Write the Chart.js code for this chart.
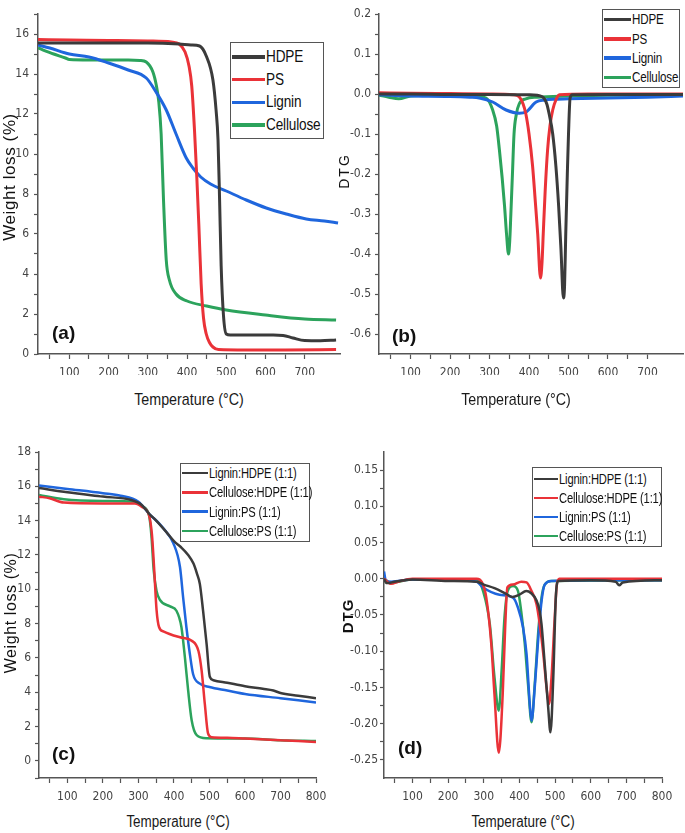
<!DOCTYPE html>
<html>
<head>
<meta charset="utf-8">
<script src="https://cdn.jsdelivr.net/npm/chart.js@4.4.0/dist/chart.umd.min.js"></script>
<style>
  html, body { margin:0; padding:0; background:#fff; }
  body { width:685px; height:833px; position:relative; overflow:hidden; font-family:"Liberation Sans", Arial, sans-serif; }
  canvas { position:absolute; }
  .lbl { position:absolute; white-space:nowrap; color:#111; }
  .ytitle { transform-origin:center center; transform:translate(-50%,-50%) rotate(-90deg); }
  .xtitle { transform:translate(-50%,-50%) scaleX(0.84); color:#1a1a1a; }
  .panel { font-weight:bold; font-size:19px; }
  .legend { position:absolute; border:1.3px solid #555; background:#fff; box-sizing:border-box; color:#111; }
  .legend .row { position:absolute; left:0; display:flex; align-items:center; white-space:nowrap; }
  .legend .sw { display:inline-block; flex:none; }
  .legend .tx { display:inline-block; transform:scaleX(0.8); transform-origin:left center; letter-spacing:-0.2px; }
</style>
</head>
<body>
<canvas id="ca"></canvas>
<canvas id="cb"></canvas>
<canvas id="cc"></canvas>
<canvas id="cd"></canvas>

<script>
// ---------------- DATA ----------------
// Panel (a) TGA: temperature (°C) / weight loss (%)
const aLabels = ["HDPE", "PS", "Lignin", "Cellulose"];
const aHdpeT = [20,100,200,300,380,410,432,449,466,474,479,483,487,493,500,510,550,620,645,670,700,740,780];
const aHdpeW = [15.55,15.55,15.55,15.55,15.5,15.45,15.4,14.9,13.7,12.2,10.7,7.7,4.4,1.9,1.0,0.95,0.95,0.95,0.93,0.8,0.67,0.66,0.7];
const aPsT = [20,100,200,300,360,380,395,405,412,419,425,430,436,442,449,458,466,480,550,650,780];
const aPsW = [15.72,15.7,15.68,15.65,15.6,15.5,15.1,14.4,13.4,11.2,8.8,6.5,3.5,1.8,1.0,0.55,0.35,0.22,0.2,0.2,0.22];
const aLigT = [20,50,100,150,200,250,296,321,347,372,398,415,435,460,500,551,602,653,704,750,785];
const aLigW = [15.45,15.3,15.0,14.85,14.55,14.2,13.8,13.1,12.2,11.0,9.8,9.3,8.85,8.5,8.15,7.7,7.3,7.0,6.75,6.65,6.55];
const aCelT = [20,60,90,100,150,200,250,280,296,313,322,328,334,340,347,355,372,400,450,500,600,700,780];
const aCelW = [15.3,15.0,14.8,14.72,14.7,14.7,14.7,14.68,14.6,14.1,13.4,12.6,11.0,7.7,4.7,3.7,3.0,2.65,2.4,2.2,1.95,1.75,1.7];

// Panel (b) DTG
const bHdpeT = [20,100,200,300,400,434,445,451,460,468,475,481,487,490,493,497,500,504,510,600,700,790];
const bHdpeD = [0,0,-0.001,-0.001,-0.002,-0.007,-0.025,-0.05,-0.1,-0.18,-0.28,-0.39,-0.51,-0.48,-0.35,-0.2,-0.1,-0.01,-0.002,-0.001,-0.001,-0.001];
const bPsT = [20,100,200,300,360,375,385,392,400,409,416,422,429,433,436,441,447,453,460,468,477,550,790];
const bPsD = [0.003,0.002,0.001,0,-0.002,-0.007,-0.025,-0.05,-0.1,-0.18,-0.27,-0.35,-0.46,-0.42,-0.35,-0.24,-0.14,-0.08,-0.04,-0.015,-0.002,0,0];
const bLigT = [20,60,100,200,250,274,308,342,375,392,418,440,460,500,600,700,790];
const bLigD = [-0.002,-0.004,-0.005,-0.006,-0.008,-0.01,-0.02,-0.04,-0.048,-0.045,-0.02,-0.015,-0.013,-0.012,-0.01,-0.008,-0.005];
const bCelT = [20,45,70,100,150,200,250,291,308,318,325,332,338,343,348,351,354,358,362,368,375,392,420,500,600,790];
const bCelD = [-0.003,-0.008,-0.012,-0.005,-0.003,-0.003,-0.003,-0.01,-0.04,-0.08,-0.14,-0.21,-0.28,-0.35,-0.4,-0.37,-0.3,-0.2,-0.1,-0.05,-0.025,-0.012,-0.008,-0.005,-0.003,-0.003];

// Panel (c) TGA of blends
const cLabels = ["Lignin:HDPE (1:1)", "Cellulose:HDPE (1:1)", "Lignin:PS (1:1)", "Cellulose:PS (1:1)"];
const cLhT = [20,100,200,280,310,330,350,380,400,420,440,455,465,473,482,492,501,511,550,600,650,680,700,750,800];
const cLhW = [15.9,15.65,15.4,15.2,14.9,14.4,14.0,13.3,12.8,12.45,12.0,11.5,10.9,10.3,8.75,6.8,4.9,4.7,4.55,4.35,4.2,4.1,3.95,3.8,3.65];
const cChT = [20,50,90,200,290,310,330,338,344,351,358,370,417,450,469,478,487,496,506,550,600,700,800];
const cChW = [15.4,15.3,15.05,15.0,15.0,14.8,14.3,13.2,11.3,8.8,7.8,7.55,7.2,7.0,6.4,5.25,3.3,1.6,1.38,1.35,1.3,1.2,1.1];
const cLpT = [20,100,200,250,300,330,360,380,398,417,426,435,445,454,473,500,550,600,700,800];
const cLpW = [16.05,15.85,15.6,15.45,15.1,14.4,13.8,13.3,12.7,11.3,9.5,7.8,6.2,5.05,4.5,4.3,4.1,3.9,3.65,3.4];
const cCpT = [20,90,200,290,310,330,337,343,351,360,389,407,421,431,440,450,464,492,600,700,800];
const cCpW = [15.5,15.25,15.15,15.1,14.85,14.3,13.0,11.1,9.9,9.4,9.0,8.75,7.8,6.0,4.1,2.35,1.5,1.32,1.3,1.2,1.15];

// Panel (d) DTG of blends
const dLhT = [20,25,30,50,100,200,280,300,330,360,380,400,419,433,448,457,462,471,481,487,495,502,509,600,670,680,690,800];
const dLhD = [0.0,-0.005,-0.006,-0.004,-0.001,-0.003,-0.004,-0.008,-0.013,-0.02,-0.025,-0.022,-0.017,-0.02,-0.03,-0.045,-0.063,-0.118,-0.18,-0.212,-0.136,-0.026,-0.003,-0.002,-0.004,-0.009,-0.005,-0.002];
const dChT = [20,40,60,100,280,295,307,321,330,342,353,360,366,382,405,420,434,448,457,467,476,483,490,499,505,512,800];
const dChD = [0.0,-0.007,-0.004,0,0,-0.005,-0.026,-0.09,-0.16,-0.24,-0.16,-0.067,-0.012,-0.008,-0.004,-0.005,-0.017,-0.035,-0.063,-0.104,-0.15,-0.173,-0.136,-0.054,-0.008,0,0];
const dLpT = [20,25,40,100,200,280,298,344,382,396,410,420,429,434,443,453,462,471,490,600,800];
const dLpD = [0.01,-0.002,-0.004,-0.001,-0.001,-0.004,-0.012,-0.022,-0.026,-0.04,-0.067,-0.104,-0.173,-0.196,-0.15,-0.081,-0.031,-0.008,-0.003,-0.002,-0.002];
const dCpT = [20,40,60,100,280,298,317,330,342,350,358,367,382,396,405,415,424,434,443,453,462,471,490,800];
const dCpD = [0.0,-0.006,-0.004,-0.001,-0.001,-0.017,-0.063,-0.136,-0.182,-0.127,-0.054,-0.017,-0.01,-0.017,-0.045,-0.09,-0.145,-0.198,-0.145,-0.072,-0.026,-0.008,-0.003,-0.002];

// tick values
const xMajorA = [100,200,300,400,500,600,700];
const xMajorC = [100,200,300,400,500,600,700,800];
const yMajorA = [0,2,4,6,8,10,12,14,16];
const yMajorB = [-0.6,-0.5,-0.4,-0.3,-0.2,-0.1,0.0,0.1,0.2];
const yMajorC = [0,2,4,6,8,10,12,14,16,18];
const yMajorD = [-0.25,-0.2,-0.15,-0.1,-0.05,0.0,0.05,0.1,0.15];

const colors = ["#3b3b3b", "#ea3238", "#1f66dd", "#2ca35c"];

// ---------------- HELPERS ----------------
function hasFont(name) {
  const c = document.createElement("canvas").getContext("2d");
  const s = "Cellulose:HDPE 0123456789";
  c.font = "20px monospace"; const a = c.measureText(s).width;
  c.font = "20px '" + name + "', monospace"; const b = c.measureText(s).width;
  return Math.abs(a - b) > 0.5;
}
const narrowCandidates = ["Liberation Sans Narrow", "Arial Narrow", "DejaVu Sans Condensed", "Roboto Condensed"];
const NARROW = narrowCandidates.find(hasFont);
const TICKFONT = NARROW ? { family: "'" + NARROW + "'", size: 12 } : { family: "'Liberation Sans', Arial, sans-serif", size: 11 };

function pts(T, V) { return T.map((t, i) => ({ x: t, y: V[i] })); }
function withMinor(major, step) {
  const out = [];
  for (let i = 0; i < major.length; i++) {
    out.push(major[i]);
    if (i < major.length - 1) out.push(+(major[i] + step / 2).toFixed(4));
  }
  return out;
}
function isMajor(v, list) { return list.some(m => Math.abs(m - v) < 1e-6); }

function makeChart(id, box, series, labels, sc, lw) {
  const cv = document.getElementById(id);
  cv.width = box.w; cv.height = box.h;
  cv.style.left = box.x + "px"; cv.style.top = box.y + "px";
  const datasets = series.map((s, i) => ({
    label: labels[i],
    data: pts(s[0], s[1]),
    borderColor: colors[i],
    backgroundColor: colors[i],
    borderWidth: lw,
    pointRadius: 0,
    tension: 0.4,
    cubicInterpolationMode: "monotone",
    fill: false
  }));
  return new Chart(cv, {
    type: "line",
    data: { datasets },
    options: {
      responsive: false,
      animation: false,
      events: [],
      layout: { padding: { top: box.pt, right: box.pr, left: 0, bottom: 0 } },
      plugins: { legend: { display: false }, tooltip: { enabled: false } },
      scales: {
        x: {
          type: "linear", min: sc.xMin, max: sc.xMax,
          afterBuildTicks: s => { s.ticks = sc.xMinor.map(v => ({ value: v })); },
          afterFit: s => { s.height = box.xh; },
          grid: { drawOnChartArea: false, drawTicks: true, tickLength: 5, color: "#555", tickWidth: 1.2 },
          border: { display: true, color: "#555", width: 1.5 },
          ticks: {
            autoSkip: false, maxRotation: 0, padding: sc.xpad, color: "#444",
            font: TICKFONT,
            callback: v => isMajor(v, sc.xMajor) ? String(v) : ""
          }
        },
        y: {
          type: "linear", min: sc.yMin, max: sc.yMax,
          afterBuildTicks: s => { s.ticks = sc.yMinor.map(v => ({ value: v })); },
          afterFit: s => { s.width = box.yw; },
          grid: { drawOnChartArea: false, drawTicks: true, tickLength: 4, color: "#555", tickWidth: 1.2 },
          border: { display: true, color: "#555", width: 1.5 },
          ticks: {
            autoSkip: false, padding: sc.ypad, color: "#444",
            font: TICKFONT,
            callback: v => isMajor(v, sc.yMajor) ? sc.fmt(v) : ""
          }
        }
      }
    }
  });
}

function makeLegend(labels, L) {
  const d = document.createElement("div");
  d.className = "legend";
  d.style.left = L.x + "px"; d.style.top = L.y + "px";
  d.style.width = L.w + "px"; d.style.height = L.h + "px";
  d.style.fontSize = L.fs + "px";
  labels.forEach((t, i) => {
    const r = document.createElement("div");
    r.className = "row";
    r.style.top = (L.r0 + i * L.dr - L.y - L.fs * 0.6 - 1) + "px";
    r.style.height = (L.fs * 1.2) + "px";
    r.style.left = "1px";
    const sw = document.createElement("span");
    sw.className = "sw";
    sw.style.width = L.lw + "px";
    sw.style.height = L.lh + "px";
    sw.style.background = colors[i];
    sw.style.marginRight = "1px";
    const tx = document.createElement("span");
    tx.className = "tx";
    tx.textContent = t;
    r.appendChild(sw); r.appendChild(tx);
    d.appendChild(r);
  });
  document.body.appendChild(d);
}
function addText(html, cls, x, y, style) {
  const e = document.createElement("div");
  e.className = "lbl " + cls;
  e.innerHTML = html;
  e.style.left = x + "px"; e.style.top = y + "px";
  Object.assign(e.style, style || {});
  document.body.appendChild(e);
}

// ---------------- CHARTS ----------------
makeChart("ca", { x: 0, y: 0, w: 342, h: 375, pt: 14, pr: 2, xh: 21, yw: 38 },
  [[aHdpeT, aHdpeW], [aPsT, aPsW], [aLigT, aLigW], [aCelT, aCelW]], aLabels,
  { xMin: 20, xMax: 790, xMajor: xMajorA, xMinor: withMinor([0].concat(xMajorA), 100).filter(v => v > 20),
    yMin: 0, yMax: 17, yMajor: yMajorA, yMinor: withMinor(yMajorA, 2).concat([17]),
    fmt: v => String(v), xpad: 7, ypad: 5 }, 3);

makeChart("cb", { x: 340, y: 0, w: 345, h: 375, pt: 14, pr: 2, xh: 21, yw: 39 },
  [[bHdpeT, bHdpeD], [bPsT, bPsD], [bLigT, bLigD], [bCelT, bCelD]], aLabels,
  { xMin: 20, xMax: 790, xMajor: xMajorA, xMinor: withMinor([0].concat(xMajorA), 100).filter(v => v > 20),
    yMin: -0.65, yMax: 0.2, yMajor: yMajorB, yMinor: withMinor(yMajorB, 0.1),
    fmt: v => v.toFixed(1), xpad: 7, ypad: 4 }, 3);

makeChart("cc", { x: 0, y: 420, w: 340, h: 380, pt: 32, pr: 24, xh: 22, yw: 39 },
  [[cLhT, cLhW], [cChT, cChW], [cLpT, cLpW], [cCpT, cCpW]], cLabels,
  { xMin: 20, xMax: 800, xMajor: xMajorC, xMinor: withMinor([0].concat(xMajorC), 100).filter(v => v > 20),
    yMin: -1, yMax: 18, yMajor: yMajorC, yMinor: withMinor([-2].concat(yMajorC), 2).filter(v => v >= -1),
    fmt: v => String(v), xpad: 7, ypad: 4 }, 2.5);

makeChart("cd", { x: 340, y: 420, w: 345, h: 380, pt: 32, pr: 23, xh: 22, yw: 44 },
  [[dLhT, dLhD], [dChT, dChD], [dLpT, dLpD], [dCpT, dCpD]], cLabels,
  { xMin: 20, xMax: 800, xMajor: xMajorC, xMinor: withMinor([0].concat(xMajorC), 100).filter(v => v > 20),
    yMin: -0.275, yMax: 0.175, yMajor: yMajorD, yMinor: withMinor(yMajorD, 0.05),
    fmt: v => v.toFixed(2), xpad: 7, ypad: 2 }, 2.5);

// ---------------- LEGENDS ----------------
makeLegend(aLabels, { x: 230, y: 42, w: 94, h: 97, fs: 17, r0: 57, dr: 22.7, lw: 33, lh: 3.5 });
makeLegend(aLabels, { x: 602, y: 9, w: 78, h: 79, fs: 14.5, r0: 19.5, dr: 19.3, lw: 27, lh: 3.5 });
makeLegend(cLabels, { x: 180, y: 463, w: 130, h: 79, fs: 14, r0: 473, dr: 19.3, lw: 26, lh: 2.5 });
makeLegend(cLabels, { x: 532, y: 467, w: 130, h: 80, fs: 14, r0: 479, dr: 19, lw: 24, lh: 2.5 });

// ---------------- TITLES ----------------
addText("Weight loss (%)", "ytitle", 10, 177, { fontSize: "17px", letterSpacing: "0.6px" });
addText("Weight loss (%)", "ytitle", 11, 613, { fontSize: "16px", letterSpacing: "0.6px" });
addText("DTG", "ytitle", 344, 171, { fontSize: "14px", letterSpacing: "2px" });
addText("DTG", "ytitle", 347, 616, { fontSize: "15px", letterSpacing: "1px", fontWeight: "bold" });
addText("Temperature (°C)", "xtitle", 189, 400, { fontSize: "17px" });
addText("Temperature (°C)", "xtitle", 516, 400, { fontSize: "17px" });
addText("Temperature (°C)", "xtitle", 178, 822, { fontSize: "16px" });
addText("Temperature (°C)", "xtitle", 523, 822, { fontSize: "16px" });
addText("(a)", "panel", 52, 322);
addText("(b)", "panel", 392, 325);
addText("(c)", "panel", 52, 743);
addText("(d)", "panel", 398, 737);
</script>
</body>
</html>
